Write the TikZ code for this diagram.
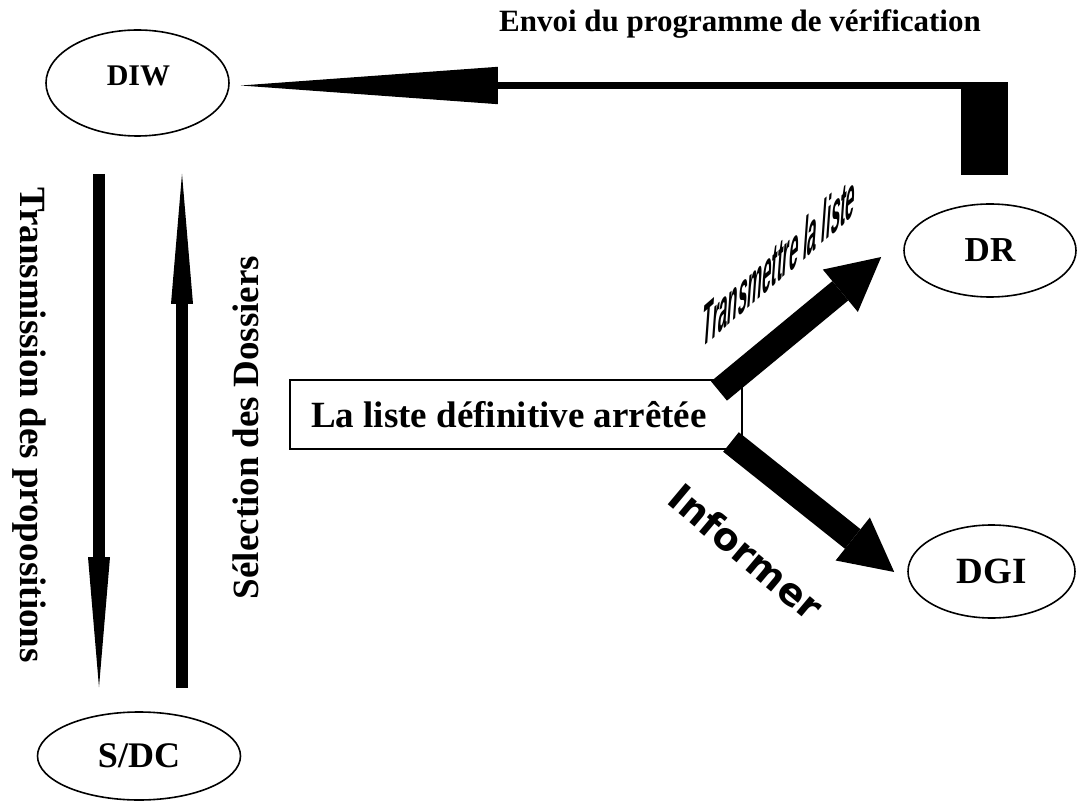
\documentclass[tikz,border=0pt]{standalone}
\usepackage{fontspec}
\setmainfont{Liberation Serif}
\newfontfamily\narrowsans{Liberation Sans}
\newfontfamily\widesans{DejaVu Sans}
\usetikzlibrary{arrows.meta,shapes.geometric,calc}
\begin{document}
\begin{tikzpicture}[x=1pt,y=-1pt,
  ell/.style={draw, line width=1.6pt, ellipse, inner sep=0pt},
  lbl/.style={font=\bfseries\fontsize{#1}{#1}\selectfont, inner sep=0pt},
  vArrow/.style={line width=11.5pt, -{Triangle[length=130pt,width=22pt,line width=0pt]}},
  fatArrow/.style={line width=25pt, -{Triangle[length=53pt,width=55pt,line width=0pt]}},
  envArrow/.style={line width=7.6pt, -{Triangle[length=257pt,width=37.4pt,line width=0pt]}},
  boxnode/.style={draw, line width=2pt, inner sep=0pt, minimum width=452pt, minimum height=69pt}
]
\useasboundingbox (0,0) rectangle (1082,802);

% ellipses
\node[ell, minimum width=183pt, minimum height=106pt] (DIW) at (137.5,83) {};
\node[lbl=30, anchor=base] (DIWt) at (138.5,86) {DIW};
\node[ell, minimum width=172pt, minimum height=93pt, lbl=35] (DR) at (990,250.5) {DR};
\node[ell, minimum width=167pt, minimum height=93pt, lbl=37] (DGI) at (991.5,571.5) {DGI};
\node[ell, minimum width=203pt, minimum height=88pt, lbl=36] (SDC) at (139,756) {S/DC};

% central box
\node[boxnode, lbl=37] (box) at (516,414.5) {La liste définitive arrêtée\hspace*{14pt}};

% top elbow arrow
\node[fill=black, inner sep=0pt, minimum width=47pt, minimum height=93.3pt, anchor=north west] (blk) at (961,81.7) {};
\coordinate (envStart) at ([yshift=-3.8pt]blk.north west);
\draw[envArrow, shorten >=11pt] (envStart) -- (envStart -| DIW.east);
\node[lbl=31, anchor=base] (envoi) at (740,31.7) {Envoi du programme de vérification};

% vertical arrows
\draw[vArrow] ($(DIW.south)+(-38.5,37)$) -- ($(SDC.north)+(-40,-24)$);
\draw[vArrow] ($(SDC.north)+(43,-23)$) -- ($(DIW.south)+(44.5,37)$);
\node[lbl=37, anchor=base, rotate=-90] (trans) at (20.5,425) {Transmission des propositions};
\node[lbl=37, anchor=base, rotate=90] (selec) at (258,427.5) {Sélection des Dossiers};

% fat arrows
\draw[fatArrow] ($(box.north east)+(-24,12)$) -- ($(DR.west)+(-22,6.5)$);
\draw[fatArrow] ($(box.south east)+(-12,-8)$) -- ($(DGI.west)+(-13,0.5)$);

\node[font=\narrowsans\bfseries\fontsize{22}{22}\selectfont, inner sep=0pt, anchor=base, transform shape, cm={0.76,0.66,0.2,2.8,(0,0)}] (tl) at (778,282) {Transmettre la liste};
\node[font=\widesans\bfseries\fontsize{38}{38}\selectfont, inner sep=0pt, rotate=-40] (inf) at (746,552) {Informer};
\end{tikzpicture}
\end{document}
